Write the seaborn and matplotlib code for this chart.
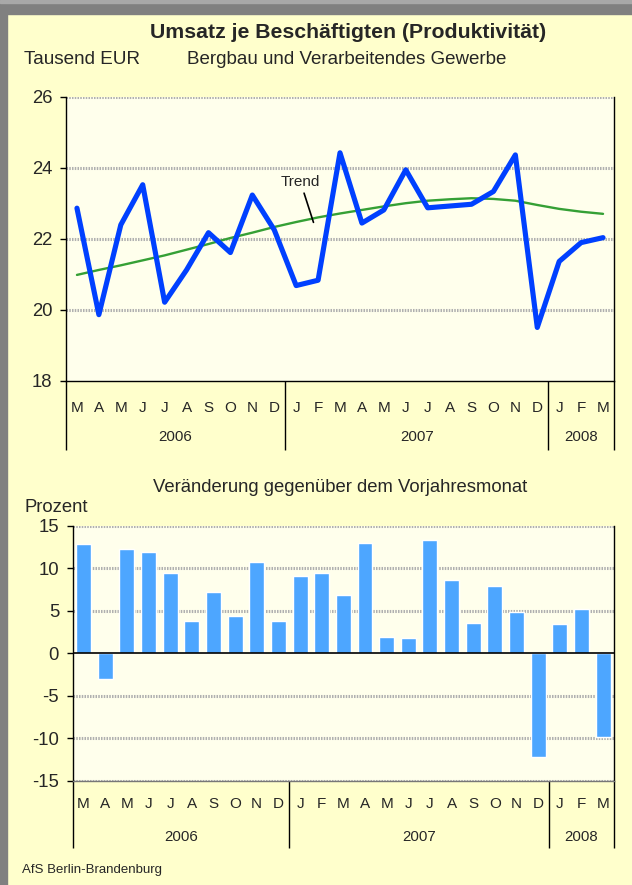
import numpy as np
import pandas as pd
import matplotlib
matplotlib.use('Agg')
import matplotlib.pyplot as plt
import seaborn as sns
from matplotlib.patches import Rectangle

# ---------------- data ----------------
months = ['M', 'A', 'M', 'J', 'J', 'A', 'S', 'O', 'N', 'D',
          'J', 'F', 'M', 'A', 'M', 'J', 'J', 'A', 'S', 'O', 'N', 'D',
          'J', 'F', 'M']
years = ['2006', '2007', '2008']
year_first = [0, 10, 22]
year_last = [9, 21, 24]

umsatz = [22.86, 19.86, 22.39, 23.52, 20.21, 21.12, 22.17, 21.61, 23.23, 22.25,
          20.68, 20.83, 24.42, 22.44, 22.81, 23.94, 22.87, 22.92, 22.97, 23.33,
          24.36, 19.50, 21.36, 21.89, 22.03]
trend = [20.98, 21.12, 21.25, 21.39, 21.53, 21.69, 21.85, 22.02, 22.17, 22.33,
         22.47, 22.60, 22.71, 22.81, 22.91, 23.00, 23.07, 23.11, 23.14, 23.12,
         23.07, 22.95, 22.84, 22.76, 22.70]
veraenderung = [12.86, -3.02, 12.27, 11.92, 9.45, 3.80, 7.21, 4.39, 10.75, 3.80,
                9.10, 9.45, 6.86, 12.98, 1.92, 1.80, 13.33, 8.63, 3.57, 7.92,
                4.86, -12.16, 3.45, 5.20, -9.80]

top_yticks = [18, 20, 22, 24, 26]
bottom_yticks = [-15, -10, -5, 0, 5, 10, 15]

# ---------------- style ----------------
sns.set_style('white')
plt.rcParams['font.family'] = ['Liberation Sans', 'DejaVu Sans']

FIG_BG = '#FFFFCC'
AX_BG = '#FFFFEC'
GRID = '#b0b0b0'
LINE_BLUE = '#0040FF'
TREND_GREEN = '#35A035'
BAR_BLUE = '#4DA6FF'

W, H = 632, 885
fig = plt.figure(figsize=(W / 100, H / 100), dpi=100, facecolor=FIG_BG)

# gray frame (left and top)
fig.patches.append(Rectangle((0, 0), 7 / W, 1, transform=fig.transFigure,
                             color='#808080', zorder=0))
fig.patches.append(Rectangle((0, 1 - 14 / H), 1, 14 / H, transform=fig.transFigure,
                             color='#808080', zorder=0))
fig.patches.append(Rectangle((0, 1 - 3 / H), 1, 3 / H, transform=fig.transFigure,
                             color='#a8a8a8', zorder=0))

df = pd.DataFrame({'pos': np.arange(len(months)), 'umsatz': umsatz,
                   'trend': trend, 'veraenderung': veraenderung})


def px_axes(left, top, right, bottom):
    return [left / W, 1 - bottom / H, (right - left) / W, (bottom - top) / H]


def style_axis(ax, yticks, grid_vals, letter_pad, year_y, sep_y):
    ax.set_facecolor(AX_BG)
    ax.set_xlim(-0.5, len(months) - 0.5)
    ax.set_ylim(yticks[0], yticks[-1])
    ax.set_yticks(yticks)
    ax.set_yticklabels([str(v) for v in yticks])
    for v in grid_vals:
        ax.axhline(v, color=GRID, lw=2.2, ls=(0, (0.5, 0.4)), zorder=0.5)
    ax.set_xticks(df['pos'])
    ax.set_xticklabels(months)
    ax.tick_params(axis='x', length=0, pad=letter_pad, labelsize=11)
    ax.tick_params(axis='y', direction='out', length=4.3, width=1,
                   pad=5.5, labelsize=13.3, left=True, color='black')
    ax.set_xlabel('')
    ax.set_ylabel('')
    ax.spines['top'].set_visible(False)
    for s in ['left', 'right', 'bottom']:
        ax.spines[s].set_color('black')
        ax.spines[s].set_linewidth(1.0)
    tr = ax.get_xaxis_transform()
    seps = [year_first[0] - 0.5] + [l + 0.5 for l in year_last]
    for xs in seps:
        ax.plot([xs, xs], [0, sep_y], transform=tr, color='black', lw=1.0,
                clip_on=False, solid_capstyle='butt')
    for yr, a, b in zip(years, year_first, year_last):
        ax.text((a + b) / 2, year_y, yr, transform=tr, ha='center',
                va='center', fontsize=10.8)


# ---------------- top chart ----------------
ax1 = fig.add_axes(px_axes(66, 96.7, 614, 380.7))
sns.lineplot(data=df, x='pos', y='trend', color=TREND_GREEN, lw=1.7, ax=ax1,
             zorder=3)
sns.lineplot(data=df, x='pos', y='umsatz', color=LINE_BLUE, lw=3.7, ax=ax1,
             zorder=4)
style_axis(ax1, top_yticks, [20, 22, 24, 26], letter_pad=14.5,
           year_y=-0.198, sep_y=-0.244)
ax1.annotate('Trend', xy=(10.79, 22.46), xytext=(10.19, 23.61),
             ha='center', va='center', fontsize=11,
             arrowprops=dict(arrowstyle='-', color='black', lw=1.2,
                             shrinkA=1, shrinkB=0), zorder=5)

# ---------------- bottom chart ----------------
ax2 = fig.add_axes(px_axes(72.7, 525.7, 614, 780.7))
sns.barplot(data=df, x='pos', y='veraenderung', color=BAR_BLUE, saturation=1,
            width=0.69, errorbar=None, ax=ax2, zorder=3)
style_axis(ax2, bottom_yticks, [-15, -10, -5, 5, 10, 15], letter_pad=12,
           year_y=-0.221, sep_y=-0.264)
ax2.spines['bottom'].set_color('#777777')
ax2.axhline(0, color='black', lw=1.2, zorder=4)

# ---------------- texts ----------------
fig.text(348 / W, 1 - 32 / H, 'Umsatz je Beschäftigten (Produktivität)',
         ha='center', va='center', fontsize=15.3, fontweight='bold')
fig.text(24 / W, 1 - 59 / H, 'Tausend EUR', ha='left', va='center', fontsize=13.6)
fig.text(347 / W, 1 - 60 / H, 'Bergbau und Verarbeitendes Gewerbe',
         ha='center', va='center', fontsize=13.5)
fig.text(340 / W, 1 - 488 / H, 'Veränderung gegenüber dem Vorjahresmonat',
         ha='center', va='center', fontsize=13.3)
fig.text(24 / W, 1 - 508 / H, 'Prozent', ha='left', va='center', fontsize=13.3)
fig.text(22 / W, 1 - 870 / H, 'AfS Berlin-Brandenburg', ha='left',
         va='center', fontsize=9.5)

fig.savefig('out.png', dpi=100, facecolor=FIG_BG)
